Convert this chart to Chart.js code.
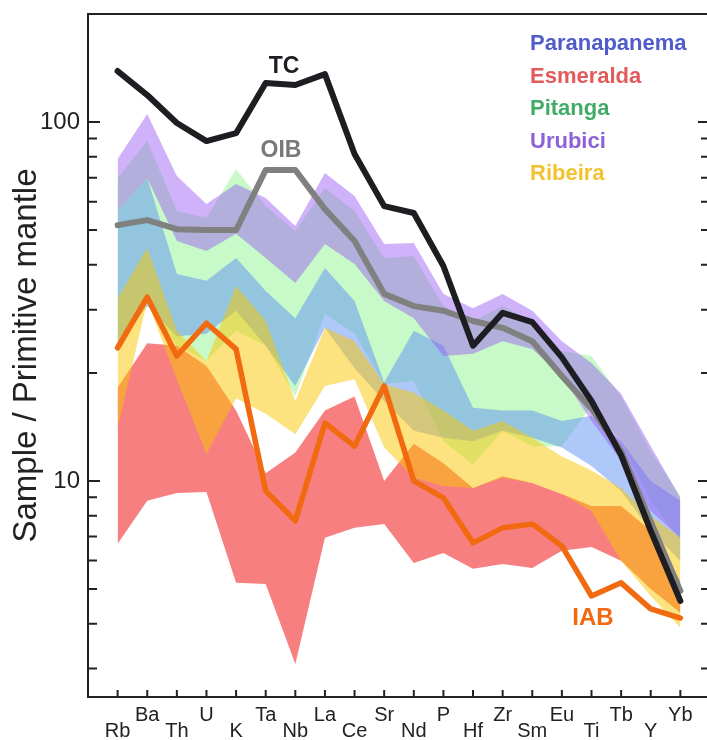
<!DOCTYPE html>
<html>
<head>
<meta charset="utf-8">
<script src="https://cdn.jsdelivr.net/npm/chart.js@4.4.0/dist/chart.umd.min.js"></script>
<style>
    html, body { margin: 0; padding: 0; background: #fff; }
    #contenedor { width: 707px; height: 740px; }
</style>
</head>
<body>
<div id="contenedor"><canvas id="grafica" width="707" height="740"></canvas></div>
<script>
// =======================================================
// DATOS (normalizados al manto primitivo)
// =======================================================
const elementos = ["Rb", "Ba", "Th", "U", "K", "Ta", "Nb", "La", "Ce", "Sr",
                   "Nd", "P", "Hf", "Zr", "Sm", "Eu", "Ti", "Tb", "Y", "Yb"];
const ticksY = [3, 4, 5, 6, 7, 8, 9, 10, 20, 30, 40, 50, 60, 70, 80, 90, 100];

// Curvas de referencia
const tc  = [138.7, 118.9, 99.4, 88.5, 93.1, 128.4, 126.8, 136, 81.5, 58.3, 55.8, 39.7, 23.8, 29.4, 27.7, 22.1, 16.7, 11.8, 7.26, 4.63];
const oib = [51.6, 53.3, 50.3, 50, 50, 73.5, 73.5, 57.2, 46.6, 33.2, 30.7, 29.8, 27.9, 26.7, 24.5, 19.6, 15.9, 12.1, 7.7, 4.94];
const iab = [23.5, 32.5, 22.3, 27.5, 23.3, 9.38, 7.74, 14.5, 12.5, 18.4, 10, 8.97, 6.72, 7.4, 7.59, 6.59, 4.78, 5.2, 4.4, 4.15];

// Rangos (máximo / mínimo) de cada grupo
const esmeraldaMax = [18.2, 24.2, 23.8, 20.9, 15.7, 10.5, 12.0, 15.7, 17.2, 10.0, 12.7, 11.2, 9.56, 10.3, 9.87, 9.20, 8.52, 8.52, 7.26, 5.27];
const esmeraldaMin = [6.68, 8.80, 9.26, 9.32, 5.20, 5.16, 3.09, 6.94, 7.40, 7.59, 5.91, 6.30, 5.69, 5.87, 5.72, 6.39, 6.55, 5.99, 5.00, 4.29];

const ribeiraMax = [32.3, 44.6, 26.2, 21.6, 34.9, 27.9, 16.7, 26.7, 24.5, 18.6, 17.6, 15.7, 13.8, 14.7, 13.2, 11.7, 10.7, 9.56, 7.99, 6.94];
const ribeiraMin = [14.05, 31.7, 19.2, 11.9, 17.0, 15.4, 13.5, 18.4, 19.2, 12.4, 10.2, 9.68, 9.56, 10.2, 9.87, 9.20, 8.25, 5.99, 4.78, 3.90];

const pitangaMax = [69.8, 88.5, 56.5, 54.0, 73.9, 58.3, 49.7, 65.5, 56.5, 41.8, 42.3, 30.7, 27.9, 30.7, 27.9, 23.0, 22.3, 17.2, 12.1, 9.08];
const pitangaMin = [24.5, 31.7, 23.8, 21.6, 26.2, 23.8, 17.2, 29.2, 25.7, 18.6, 19.0, 12.9, 11.1, 13.8, 12.5, 12.5, 16.2, 12.9, 8.80, 6.81];

const paranapanemaMax = [56.5, 69.8, 37.7, 36.1, 41.8, 33.8, 28.4, 39.2, 31.7, 18.8, 26.2, 23.8, 16.0, 15.7, 15.7, 14.7, 15.2, 12.9, 10.0, 8.80];
const paranapanemaMin = [23.8, 30.7, 25.3, 25.7, 29.8, 23.8, 18.4, 26.7, 20.6, 16.7, 13.8, 13.2, 12.9, 13.8, 13.2, 12.4, 11.0, 9.38, 7.26, 5.99];

const urubiciMax = [78.9, 105.3, 70.7, 59.1, 67.2, 61.4, 51.3, 72.1, 62.2, 45.7, 46.0, 33.2, 30.3, 33.2, 29.8, 24.5, 21.3, 17.5, 12.5, 8.97];
const urubiciMin = [56.5, 69.8, 46.6, 43.7, 48.8, 41.8, 35.6, 45.7, 40.2, 31.7, 28.4, 22.3, 22.6, 24.5, 23.3, 19.6, 14.7, 11.4, 8.25, 6.94];

// =======================================================
// ESTILO
// =======================================================
const FUENTE = '"Liberation Sans", Arial, Helvetica, sans-serif';
const TINTA = "#222";
Chart.defaults.font.family = FUENTE;
Chart.defaults.color = TINTA;

const leyenda = [
    { texto: "Paranapanema", color: "#4f5cc9" },
    { texto: "Esmeralda",    color: "#e25a5a" },
    { texto: "Pitanga",      color: "#43ab68" },
    { texto: "Urubici",      color: "#8d62d8" },
    { texto: "Ribeira",      color: "#f3c231" }
];

// =======================================================
// CONSTRUCCIÓN DE DATASETS
// =======================================================
const puntos = lista => lista.map((v, i) => ({ x: i, y: v }));

function banda(nombre, maximos, minimos, relleno, orden) {
    return [
        { label: nombre + " min", data: puntos(minimos), borderWidth: 0, pointRadius: 0, fill: false, order: orden },
        { label: nombre, data: puntos(maximos), borderWidth: 0, pointRadius: 0,
          backgroundColor: relleno, fill: "-1", order: orden }
    ];
}

function linea(nombre, valores, color, ancho, orden) {
    return { label: nombre, data: puntos(valores), borderColor: color, borderWidth: ancho,
             borderJoinStyle: "round", borderCapStyle: "round", pointRadius: 0, fill: false, order: orden };
}

const datasets = [
    ...banda("Esmeralda", esmeraldaMax, esmeraldaMin, "rgba(240,0,0,0.5)", 10),
    ...banda("Pitanga", pitangaMax, pitangaMin, "rgba(110,240,110,0.38)", 9),
    ...banda("Paranapanema", paranapanemaMax, paranapanemaMin, "rgba(95,145,245,0.5)", 8),
    ...banda("Urubici", urubiciMax, urubiciMin, "rgba(150,85,245,0.45)", 7),
    ...banda("Ribeira", ribeiraMax, ribeiraMin, "rgba(250,200,0,0.5)", 6),
    linea("OIB", oib, "#808080", 6, 3),
    linea("TC", tc, "#1d1d22", 6, 2),
    linea("IAB", iab, "#f26a10", 5.5, 1)
];

// =======================================================
// PLUGIN: marcas hacia dentro, borde superior y textos
// =======================================================
const decoracion = {
    id: "decoracion",
    afterDraw(chart) {
        const { ctx, chartArea: a, scales: { x, y } } = chart;
        ctx.save();
        ctx.strokeStyle = TINTA;
        ctx.lineWidth = 2;

        // borde superior
        ctx.beginPath();
        ctx.moveTo(a.left - 1, a.top);
        ctx.lineTo(a.right, a.top);
        ctx.stroke();

        // marcas del eje logarítmico (izquierda y derecha)
        y.ticks.forEach(t => {
            const py = y.getPixelForValue(t.value);
            const mayor = t.value === 10 || t.value === 100;
            ctx.beginPath();
            ctx.moveTo(a.left, py);
            ctx.lineTo(a.left + (mayor ? 12 : 9), py);
            ctx.moveTo(a.right, py);
            ctx.lineTo(a.right - (mayor ? 9 : 6), py);
            ctx.stroke();
        });

        // marcas de los elementos
        x.ticks.forEach(t => {
            const px = x.getPixelForValue(t.value);
            ctx.beginPath();
            ctx.moveTo(px, a.bottom);
            ctx.lineTo(px, a.bottom - 7);
            ctx.stroke();
        });

        // leyenda de grupos
        ctx.font = "bold 22px " + FUENTE;
        ctx.textAlign = "left";
        ctx.textBaseline = "alphabetic";
        leyenda.forEach((item, i) => {
            ctx.fillStyle = item.color;
            ctx.fillText(item.texto, 530, 50 + i * 32.5);
        });

        // nombres de las curvas de referencia
        ctx.textAlign = "center";
        ctx.font = "bold 23px " + FUENTE;
        ctx.fillStyle = "#1d1d22";
        ctx.fillText("TC", 284, 73);
        ctx.fillStyle = "#7a7a7a";
        ctx.fillText("OIB", 281, 157);
        ctx.font = "bold 24px " + FUENTE;
        ctx.fillStyle = "#f26a10";
        ctx.fillText("IAB", 593, 625);

        ctx.restore();
    }
};

// sin márgenes extra de las etiquetas en los extremos de los ejes
function sinRelleno(s) {
    s.paddingTop = 0;
    s.paddingBottom = 0;
    s.paddingLeft = 0;
    s.paddingRight = 0;
}

// =======================================================
// GRÁFICA
// =======================================================
new Chart(document.getElementById("grafica"), {
    type: "line",
    data: { datasets },
    options: {
        responsive: false,
        animation: false,
        devicePixelRatio: 1,
        layout: { padding: { top: 14, right: 0, left: 0, bottom: 0 } },
        plugins: {
            legend: { display: false },
            tooltip: { enabled: false }
        },
        scales: {
            x: {
                type: "linear",
                bounds: "data",
                min: -1.0,
                max: 19.9,
                afterBuildTicks: s => { s.ticks = elementos.map((e, i) => ({ value: i })); },
                afterFit: s => { s.height = 43; sinRelleno(s); },
                grid: { display: false, drawTicks: false },
                border: { display: true, color: TINTA, width: 2 },
                ticks: {
                    autoSkip: false,
                    maxRotation: 0,
                    minRotation: 0,
                    padding: 10,
                    color: TINTA,
                    font: { size: 20, lineHeight: 0.8 },
                    // etiquetas escalonadas en dos filas
                    callback: v => (v % 2 ? [elementos[v], ""] : ["", elementos[v]])
                }
            },
            y: {
                type: "logarithmic",
                bounds: "data",
                min: 2.5,
                max: 200,
                afterBuildTicks: s => { s.ticks = ticksY.map(v => ({ value: v })); },
                afterFit: s => { s.width = 88; sinRelleno(s); },
                grid: { display: false, drawTicks: false },
                border: { display: true, color: TINTA, width: 2 },
                ticks: {
                    autoSkip: false,
                    padding: 8,
                    color: TINTA,
                    font: { size: 24 },
                    callback: v => (v === 10 || v === 100 ? String(v) : "")
                },
                title: {
                    display: true,
                    text: "Sample / Primitive mantle",
                    color: TINTA,
                    font: { size: 33 },
                    padding: { top: 7, bottom: 0 }
                }
            }
        }
    },
    plugins: [decoracion]
});
</script>
</body>
</html>
